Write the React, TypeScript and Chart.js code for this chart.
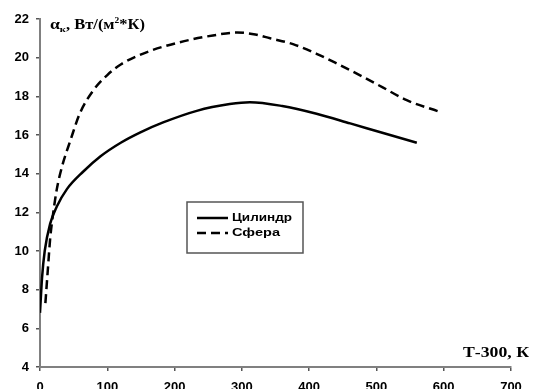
import React, { useEffect, useRef } from "react";
import { Chart, registerables } from "chart.js";

Chart.register(...registerables);

const cylinderX = [0, 3, 7, 15, 25, 40, 64, 90, 120, 150, 183, 233, 282, 312, 360, 411, 461, 510, 560];
const cylinderY = [6.8, 8.6, 10.0, 11.4, 12.3, 13.2, 14.1, 14.9, 15.6, 16.15, 16.65, 17.25, 17.6, 17.7, 17.5, 17.1, 16.6, 16.1, 15.6];

const sphereX = [8, 12, 15, 19, 25, 33, 45, 59, 79, 100, 120, 160, 208, 257, 293, 320, 342, 376, 411, 441, 475, 510, 545, 594];
const sphereY = [7.3, 9.2, 10.6, 11.8, 13.2, 14.4, 15.7, 17.1, 18.3, 19.1, 19.65, 20.3, 20.8, 21.15, 21.3, 21.2, 21.0, 20.7, 20.2, 19.7, 19.1, 18.45, 17.8, 17.2];

const seriesNames = ["Цилиндр", "Сфера"];
const xTitle = "Т-300, К";

const toPts = (xs: number[], ys: number[]) => xs.map((x, i) => ({ x, y: ys[i] }));

type Part = { t: string; font: string; dy: number };

function drawStretched(ctx: CanvasRenderingContext2D, parts: Part[], x: number, y: number, targetW: number) {
  let w = 0;
  for (const p of parts) {
    ctx.font = p.font;
    w += ctx.measureText(p.t).width;
  }
  const s = targetW / w;
  ctx.save();
  ctx.translate(x, y);
  ctx.scale(s, 1);
  let cx = 0;
  for (const p of parts) {
    ctx.font = p.font;
    ctx.fillText(p.t, cx, p.dy);
    cx += ctx.measureText(p.t).width;
  }
  ctx.restore();
}

export default function App() {
  const ref = useRef<HTMLCanvasElement | null>(null);
  useEffect(() => {
    document.body.style.margin = "0";
    const canvas = ref.current!;
    const extras = {
      id: "extras",
      afterDraw(chart: any) {
        const ctx = chart.ctx as CanvasRenderingContext2D;
        ctx.save();
        ctx.fillStyle = "#000";
        ctx.textAlign = "left";
        ctx.textBaseline = "alphabetic";
        const serifB = (n: number) => `bold ${n}px 'Liberation Serif'`;
        drawStretched(
          ctx,
          [
            { t: "α", font: serifB(15), dy: 0 },
            { t: "к", font: serifB(9), dy: 3 },
            { t: ", Вт/(м", font: serifB(14), dy: 0 },
            { t: "2", font: serifB(8), dy: -6 },
            { t: "*К)", font: serifB(14), dy: 0 },
          ],
          50,
          29,
          95
        );
        drawStretched(ctx, [{ t: xTitle, font: serifB(14), dy: 0 }], 463, 357, 66);
        // legend
        ctx.strokeStyle = "#555";
        ctx.lineWidth = 1.5;
        ctx.strokeRect(187, 202, 116, 51);
        ctx.strokeStyle = "#000";
        ctx.lineWidth = 2.5;
        ctx.beginPath();
        ctx.moveTo(197, 218);
        ctx.lineTo(228, 218);
        ctx.stroke();
        ctx.setLineDash([9, 5]);
        ctx.beginPath();
        ctx.moveTo(197, 233);
        ctx.lineTo(228, 233);
        ctx.stroke();
        ctx.setLineDash([]);
        ctx.textBaseline = "middle";
        drawStretched(ctx, [{ t: seriesNames[0], font: "bold 11px 'Liberation Sans'", dy: 0 }], 232, 218, 60);
        drawStretched(ctx, [{ t: seriesNames[1], font: "bold 11px 'Liberation Sans'", dy: 0 }], 232, 233, 48);
        ctx.restore();
      },
    };
    const chart = new Chart(canvas, {
      type: "line",
      data: {
        datasets: [
          {
            label: seriesNames[0],
            data: toPts(cylinderX, cylinderY),
            borderColor: "#000",
            borderWidth: 2.5,
            pointRadius: 0,
            cubicInterpolationMode: "monotone",
            fill: false,
          },
          {
            label: seriesNames[1],
            data: toPts(sphereX, sphereY),
            borderColor: "#000",
            borderWidth: 2.5,
            borderDash: [9, 5],
            pointRadius: 0,
            cubicInterpolationMode: "monotone",
            fill: false,
          },
        ],
      },
      options: {
        animation: false,
        responsive: false,
        layout: { padding: { top: 19, right: 26, left: 0, bottom: 0 } },
        plugins: { legend: { display: false }, tooltip: { enabled: false } },
        scales: {
          x: {
            type: "linear",
            min: 0,
            max: 700,
            ticks: { stepSize: 100, color: "#000", font: { family: "'Liberation Sans'", weight: "bold", size: 13 }, padding: 9, maxRotation: 0 },
            grid: { drawOnChartArea: false, drawTicks: true, tickLength: 4, color: "#555", lineWidth: 1.5 },
            border: { display: true, color: "#808080", width: 2 },
            afterFit: (s: any) => { s.height = 22; },
          },
          y: {
            type: "linear",
            min: 4,
            max: 22,
            ticks: { stepSize: 2, color: "#000", font: { family: "'Liberation Sans'", weight: "bold", size: 13 }, padding: 7 },
            grid: { drawOnChartArea: false, drawTicks: true, tickLength: 4, color: "#555", lineWidth: 1.5 },
            border: { display: true, color: "#808080", width: 2 },
            afterFit: (s: any) => { s.width = 40; },
          },
        },
      },
      plugins: [extras],
    } as any);
    return () => chart.destroy();
  }, []);
  return (
    <div style={{ position: "absolute", left: 0, top: 0, width: 537, height: 389, background: "#fff" }}>
      <canvas ref={ref} width={537} height={389} style={{ width: 537, height: 389 }} />
    </div>
  );
}
